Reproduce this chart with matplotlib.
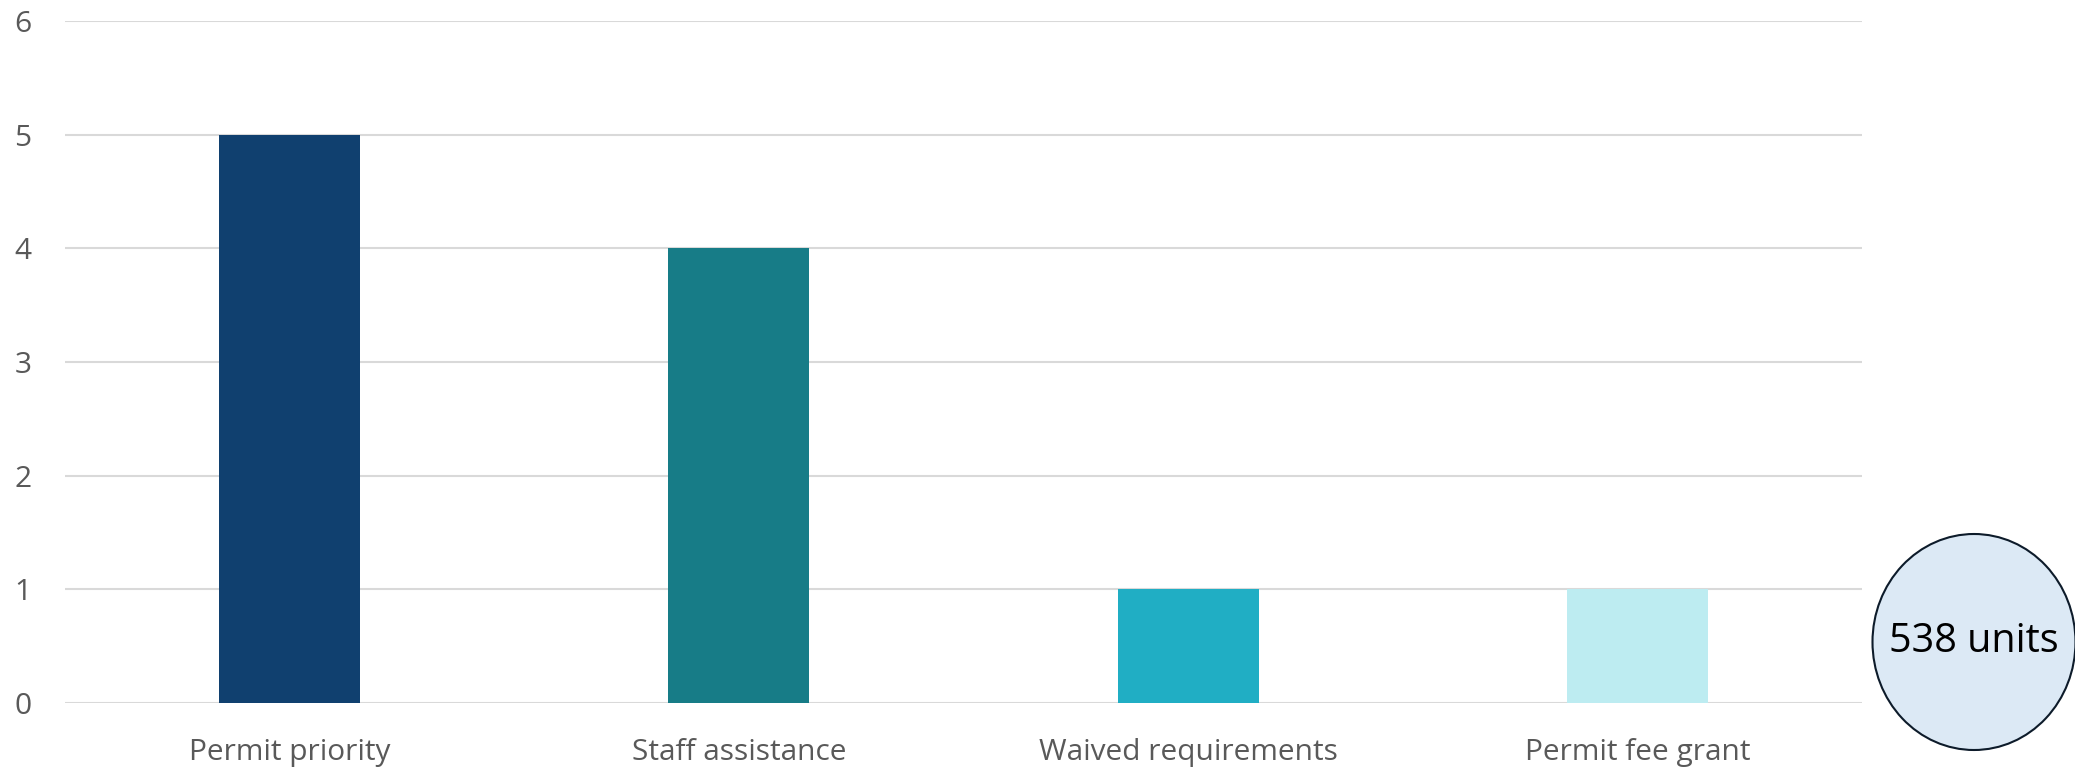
import matplotlib.pyplot as plt
from matplotlib.patches import Ellipse

# chart data
categories = ["Permit priority", "Staff assistance", "Waived requirements", "Permit fee grant"]
counts = [5, 4, 1, 1]
bar_colors = ["#10406F", "#177C87", "#20AEC4", "#BDECF1"]
yticks = [0, 1, 2, 3, 4, 5, 6]
badge_text = "538 units"

plt.rcParams['font.family'] = ['Open Sans', 'DejaVu Sans']

fig = plt.figure(figsize=(20.75, 7.71), dpi=100)
ax = fig.add_axes([0.0313, 0.0882, 0.866, 0.8846])

x = list(range(len(categories)))
ax.bar(x, counts, width=0.314, color=bar_colors, zorder=3)

ax.set_xlim(-0.5, len(categories) - 0.5)
ax.set_ylim(0, 6)
ax.set_yticks(yticks)
ax.set_xticks(x)
ax.set_xticklabels(categories)

# light gridlines, no frame
ax.grid(axis='y', color='#d9d9d9', linewidth=1.5, zorder=0)
for s in ax.spines.values():
    s.set_visible(False)
ax.tick_params(axis='both', length=0, labelsize=21.5, colors='#595959')
ax.tick_params(axis='y', pad=24)
ax.tick_params(axis='x', pad=25)

# circle badge on the right
badge = Ellipse((1974 / 2075, 1 - 642 / 771), 203 / 2075, 216 / 771,
                transform=fig.transFigure, facecolor='#DCE9F5',
                edgecolor='#0D1B2A', linewidth=1.5)
fig.add_artist(badge)
fig.text(1974 / 2075, 1 - 642 / 771, badge_text, ha='center', va='center',
         fontsize=28.5, color='black')

fig.savefig("out.png", dpi=100)
